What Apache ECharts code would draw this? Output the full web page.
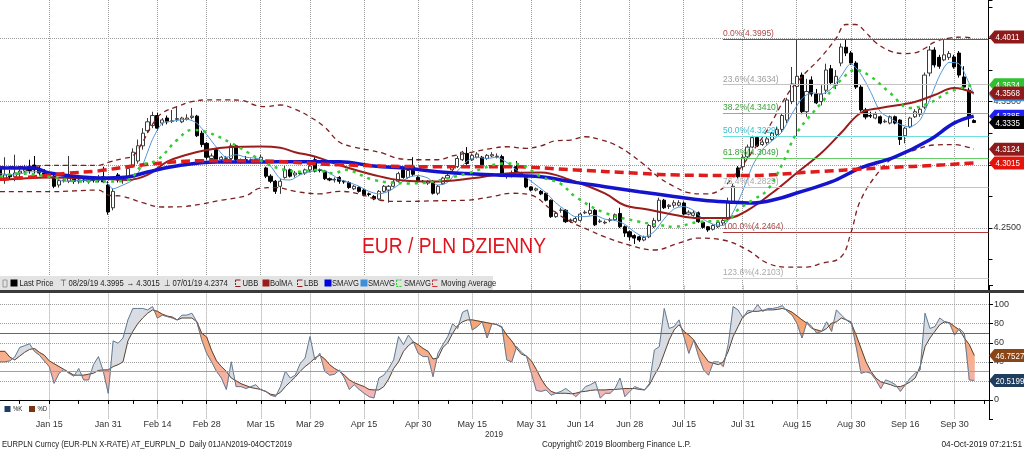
<!DOCTYPE html>
<html>
<head>
<meta charset="utf-8">
<script src="https://cdn.jsdelivr.net/npm/echarts@6/dist/echarts.min.js"></script>
<style>
html,body{margin:0;padding:0;background:#ffffff;}
#chart{width:1024px;height:450px;}
</style>
</head>
<body>
<div id="chart"></div>
<script>
// ---------------- DATA ----------------
// x-axis tick label dates
const tickLabelDates = ['2019-01-15','2019-01-31','2019-02-14','2019-02-28','2019-03-15','2019-03-29','2019-04-15','2019-04-30','2019-05-15','2019-05-31','2019-06-14','2019-06-28','2019-07-15','2019-07-31','2019-08-15','2019-08-30','2019-09-16','2019-09-30'];

// daily candles: [open, close, low, high], one per trading day from 2019-01-01
const candles = [
[4.2975,4.2880,4.2860,4.3010],[4.2890,4.2920,4.2850,4.3060],[4.2920,4.2905,4.2880,4.2960],[4.2905,4.2935,4.2870,4.3080],[4.2935,4.2950,4.2900,4.2990],
[4.2950,4.2965,4.2920,4.3000],[4.2965,4.2955,4.2930,4.3040],[4.2998,4.2960,4.2930,4.3070],[4.2960,4.2935,4.2915,4.2990],[4.2935,4.2920,4.2900,4.2965],
[4.2925,4.2930,4.2905,4.2950],[4.2910,4.2830,4.2815,4.2920],[4.2840,4.2875,4.2820,4.2890],[4.2875,4.2880,4.2860,4.2900],[4.2870,4.2895,4.2855,4.3070],
[4.2890,4.2870,4.2850,4.2900],[4.2870,4.2880,4.2850,4.2900],[4.2880,4.2875,4.2860,4.2890],[4.2870,4.2885,4.2850,4.2900],[4.2885,4.2875,4.2860,4.2910],
[4.2875,4.2890,4.2860,4.2920],[4.2905,4.2865,4.2855,4.2985],[4.2840,4.2627,4.2605,4.2870],[4.2660,4.2790,4.2640,4.2810],[4.2920,4.2880,4.2860,4.2935],
[4.2880,4.2895,4.2850,4.2900],[4.2905,4.2970,4.2890,4.2990],[4.2990,4.3100,4.2980,4.3130],[4.3030,4.3150,4.3010,4.3200],[4.3150,4.3250,4.3120,4.3290],
[4.3270,4.3340,4.3250,4.3370],[4.3310,4.3390,4.3290,4.3420],[4.3390,4.3290,4.3270,4.3410],[4.3330,4.3355,4.3310,4.3370],[4.3370,4.3340,4.3320,4.3390],
[4.3345,4.3347,4.3330,4.3434],[4.3360,4.3365,4.3340,4.3460],[4.3340,4.3370,4.3330,4.3380],[4.3360,4.3370,4.3350,4.3400],[4.3375,4.3385,4.3360,4.3450],
[4.3385,4.3230,4.3220,4.3395],[4.3250,4.3160,4.3140,4.3270],[4.3170,4.3060,4.3040,4.3180],[4.3050,4.3070,4.3030,4.3090],[4.3120,4.3040,4.3030,4.3130],
[4.3040,4.3060,4.3020,4.3070],[4.3050,4.3055,4.3040,4.3070],[4.3050,4.3150,4.3040,4.3170],[4.3150,4.3040,4.3030,4.3160],[4.3030,4.3040,4.3010,4.3050],
[4.3040,4.3035,4.3020,4.3070],[4.3035,4.3040,4.3020,4.3050],[4.3040,4.3045,4.3030,4.3070],[4.3030,4.3060,4.3020,4.3080],[4.2975,4.2910,4.2895,4.2985],
[4.2910,4.2870,4.2855,4.2925],[4.2870,4.2790,4.2770,4.2880],[4.2830,4.2870,4.2770,4.2890],[4.2900,4.2960,4.2890,4.2990],[4.2960,4.2910,4.2900,4.2970],
[4.2920,4.2935,4.2900,4.2950],[4.2930,4.2935,4.2920,4.2950],[4.2935,4.2960,4.2920,4.2970],[4.2960,4.2990,4.2940,4.3000],[4.3040,4.2950,4.2940,4.3060],
[4.2960,4.2955,4.2940,4.2970],[4.2950,4.2890,4.2880,4.2960],[4.2890,4.2880,4.2870,4.2900],[4.2880,4.2885,4.2860,4.2900],[4.2900,4.2870,4.2850,4.2910],
[4.2870,4.2865,4.2850,4.2880],[4.2860,4.2820,4.2810,4.2870],[4.2810,4.2830,4.2800,4.2840],[4.2820,4.2790,4.2780,4.2830],[4.2800,4.2760,4.2750,4.2810],
[4.2770,4.2765,4.2750,4.2780],[4.2750,4.2730,4.2720,4.2760],[4.2730,4.2790,4.2720,4.2800],[4.2790,4.2830,4.2780,4.2840],[4.2800,4.2830,4.2700,4.2840],
[4.2830,4.2865,4.2820,4.2880],[4.2870,4.2930,4.2860,4.2945],[4.2960,4.2900,4.2890,4.2970],[4.2900,4.2955,4.2890,4.2970],[4.2985,4.2925,4.2910,4.3060],
[4.2900,4.2870,4.2860,4.2910],[4.2870,4.2868,4.2860,4.2880],[4.2855,4.2870,4.2840,4.2880],[4.2870,4.2775,4.2765,4.2880],[4.2775,4.2830,4.2760,4.2840],
[4.2850,4.2895,4.2840,4.2905],[4.2895,4.2915,4.2890,4.2930],[4.2960,4.2985,4.2950,4.2995],[4.2985,4.3050,4.2975,4.3070],[4.3040,4.3100,4.3030,4.3110],
[4.3090,4.3010,4.3000,4.3140],[4.3040,4.3075,4.3030,4.3090],[4.3060,4.3085,4.3050,4.3100],[4.3060,4.3000,4.2990,4.3070],[4.3050,4.3075,4.3040,4.3085],
[4.3070,4.3080,4.3060,4.3100],[4.3065,4.3068,4.3050,4.3090],[4.3065,4.2920,4.2905,4.3080],[4.2910,4.2915,4.2890,4.2935],[4.2910,4.2935,4.2900,4.2955],
[4.2985,4.2945,4.2935,4.3030],[4.2930,4.2925,4.2910,4.2945],[4.2900,4.2825,4.2815,4.2910],[4.2825,4.2800,4.2790,4.2830],[4.2800,4.2810,4.2790,4.2820],
[4.2790,4.2770,4.2760,4.2800],[4.2775,4.2720,4.2710,4.2780],[4.2720,4.2590,4.2580,4.2725],[4.2590,4.2615,4.2580,4.2630],[4.2640,4.2642,4.2620,4.2660],
[4.2640,4.2550,4.2540,4.2650],[4.2560,4.2562,4.2540,4.2575],[4.2550,4.2575,4.2540,4.2590],[4.2560,4.2610,4.2550,4.2620],[4.2620,4.2625,4.2610,4.2640],
[4.2615,4.2640,4.2600,4.2700],[4.2640,4.2525,4.2515,4.2650],[4.2550,4.2555,4.2540,4.2570],[4.2540,4.2545,4.2530,4.2560],[4.2560,4.2565,4.2545,4.2580],
[4.2565,4.2605,4.2555,4.2615],[4.2615,4.2510,4.2500,4.2660],[4.2510,4.2460,4.2430,4.2520],[4.2470,4.2430,4.2400,4.2480],[4.2440,4.2420,4.2374,4.2450],
[4.2430,4.2405,4.2390,4.2440],[4.2405,4.2425,4.2395,4.2440],[4.2430,4.2520,4.2420,4.2530],[4.2510,4.2560,4.2500,4.2580],[4.2560,4.2720,4.2550,4.2740],
[4.2720,4.2660,4.2650,4.2730],[4.2670,4.2680,4.2650,4.2690],[4.2680,4.2700,4.2660,4.2720],[4.2680,4.2700,4.2670,4.2720],[4.2698,4.2610,4.2600,4.2710],
[4.2610,4.2625,4.2600,4.2640],[4.2600,4.2620,4.2590,4.2640],[4.2620,4.2550,4.2540,4.2630],[4.2545,4.2505,4.2495,4.2550],[4.2510,4.2485,4.2470,4.2515],
[4.2490,4.2520,4.2480,4.2530],[4.2510,4.2545,4.2500,4.2560],[4.2540,4.2560,4.2520,4.2570],[4.2570,4.2710,4.2560,4.2740],[4.2700,4.2830,4.2690,4.2850],
[4.2975,4.2905,4.2890,4.2990],[4.2985,4.3060,4.2960,4.3080],[4.3063,4.3140,4.3050,4.3160],[4.3140,4.3215,4.3130,4.3230],[4.3215,4.3150,4.3140,4.3225],
[4.3160,4.3180,4.3150,4.3200],[4.3175,4.3205,4.3160,4.3220],[4.3200,4.3250,4.3190,4.3260],[4.3240,4.3280,4.3225,4.3300],[4.3280,4.3390,4.3260,4.3410],
[4.3354,4.3513,4.3330,4.3530],[4.3500,4.3640,4.3480,4.3774],[4.3620,4.3700,4.3220,4.3987],[4.3710,4.3420,4.3400,4.3730],[4.3420,4.3580,4.3380,4.3680],
[4.3671,4.3560,4.3540,4.3700],[4.3560,4.3490,4.3480,4.3600],[4.3500,4.3560,4.3470,4.3630],[4.3590,4.3750,4.3560,4.3800],[4.3760,4.3650,4.3630,4.3790],
[4.3630,4.3700,4.3600,4.3750],[4.3805,4.3932,4.3780,4.3960],[4.3930,4.3884,4.3860,4.3995],[4.3884,4.3805,4.3790,4.3900],[4.3805,4.3615,4.3600,4.3820],
[4.3615,4.3434,4.3420,4.3630],[4.3434,4.3378,4.3360,4.3450],[4.3390,4.3385,4.3370,4.3420],[4.3370,4.3400,4.3360,4.3420],[4.3380,4.3330,4.3320,4.3390],
[4.3340,4.3345,4.3330,4.3360],[4.3330,4.3380,4.3320,4.3390],[4.3380,4.3330,4.3320,4.3390],[4.3354,4.3200,4.3157,4.3360],[4.3230,4.3290,4.3170,4.3300],
[4.3300,4.3370,4.3290,4.3380],[4.3380,4.3420,4.3370,4.3440],[4.3400,4.3440,4.3380,4.3450],[4.3457,4.3710,4.3440,4.3730],[4.3726,4.3908,4.3700,4.3940],
[4.3908,4.3790,4.3770,4.3930],[4.3850,4.3780,4.3760,4.3870],[4.3830,4.3870,4.3820,4.3987],[4.3850,4.3880,4.3830,4.3900],[4.3853,4.3774,4.3760,4.3870],
[4.3884,4.3710,4.3690,4.3900],[4.3695,4.3615,4.3600,4.3780],[4.3590,4.3380,4.3300,4.3610],[4.3350,4.3335,4.3330,4.3360]
];

// indicator lines: [tradingDayIndex, value]
const upperBand = [[0,4.2985],[5,4.2985],[10,4.2996],[15,4.2996],[20,4.2996],[22,4.3020],[25,4.3050],[27,4.3070],[29,4.3180],[31,4.3320],[33,4.3410],[36,4.3460],[39,4.3500],[42,4.3513],[46,4.3513],[49,4.3510],[52,4.3470],[54,4.3460],[57,4.3473],[60,4.3440],[63,4.3380],[66,4.3300],[69,4.3180],[72,4.3140],[75,4.3117],[78,4.3090],[81,4.3050],[85,4.3040],[89,4.3040],[92,4.3070],[96,4.3100],[100,4.3130],[103,4.3143],[107,4.3130],[110,4.3150],[113,4.3190],[116,4.3196],[119,4.3222],[122,4.3200],[125,4.3160],[128,4.3090],[131,4.3000],[134,4.2900],[137,4.2830],[140,4.2780],[143,4.2770],[146,4.2790],[149,4.2900],[152,4.3050],[156,4.3275],[160,4.3550],[163,4.3695],[167,4.3853],[170,4.4000],[172,4.4110],[174,4.4110],[176,4.4050],[178,4.3970],[181,4.3900],[184,4.3880],[186,4.3885],[188,4.3920],[190,4.3970],[193,4.4003],[196,4.4010],[198,4.4000]];
const lowerBand = [[0,4.2787],[10,4.2787],[20,4.2800],[22,4.2761],[25,4.2750],[29,4.2700],[33,4.2666],[37,4.2669],[41,4.2690],[45,4.2720],[50,4.2755],[53,4.2816],[56,4.2820],[60,4.2790],[65,4.2770],[69,4.2790],[73,4.2770],[77,4.2722],[82,4.2710],[88,4.2715],[95,4.2720],[100,4.2748],[104,4.2775],[108,4.2760],[112,4.2650],[116,4.2550],[120,4.2480],[123,4.2429],[128,4.2365],[133,4.2326],[138,4.2380],[142,4.2420],[147,4.2405],[152,4.2326],[156,4.2223],[160,4.2190],[164,4.2190],[167,4.2220],[171,4.2270],[173,4.2458],[175,4.2720],[179,4.2959],[182,4.3063],[186,4.3117],[190,4.3157],[194,4.3160],[198,4.3124]];
const bolMA = [[0,4.2880],[10,4.2900],[20,4.2890],[26,4.2880],[30,4.2920],[34,4.3025],[38,4.3080],[42,4.3117],[47,4.3140],[53,4.3145],[57,4.3135],[60,4.3100],[64,4.3065],[69,4.2998],[76,4.2920],[82,4.2875],[88,4.2867],[96,4.2893],[103,4.2932],[110,4.2940],[116,4.2880],[123,4.2774],[127,4.2680],[132,4.2645],[137,4.2605],[142,4.2579],[148,4.2579],[152,4.2640],[157,4.2777],[162,4.2935],[167,4.3093],[171,4.3251],[175,4.3410],[179,4.3449],[186,4.3497],[190,4.3552],[194,4.3607],[198,4.3568]];
const smaBlue = [[0,4.2975],[7,4.2975],[10,4.2935],[20,4.2896],[26,4.2904],[30,4.2943],[37,4.2998],[44,4.3022],[53,4.3022],[60,4.3025],[69,4.3025],[76,4.2990],[83,4.2972],[89,4.2945],[101,4.2919],[110,4.2906],[116,4.2867],[123,4.2827],[130,4.2787],[137,4.2750],[143,4.2720],[148,4.2706],[153,4.2698],[158,4.2729],[162,4.2777],[169,4.2864],[175,4.2975],[182,4.3063],[189,4.3196],[194,4.3330],[198,4.3385]];
const smaGreen = [[0,4.2906],[4,4.2932],[10,4.2906],[17,4.2867],[22,4.2867],[26,4.2880],[29,4.2998],[32,4.3038],[36,4.3196],[39,4.3275],[42,4.3260],[47,4.3172],[52,4.3060],[54,4.3011],[58,4.2959],[61,4.2945],[64,4.2959],[68,4.2932],[70,4.2960],[76,4.2880],[83,4.2853],[88,4.2867],[95,4.2932],[103,4.3011],[106,4.2998],[110,4.2906],[114,4.2850],[117,4.2748],[123,4.2620],[130,4.2550],[134,4.2524],[137,4.2510],[142,4.2547],[148,4.2563],[150,4.2642],[153,4.2720],[156,4.2800],[159,4.3000],[162,4.3250],[167,4.3489],[171,4.3671],[174,4.3750],[177,4.3700],[181,4.3568],[185,4.3449],[189,4.3489],[193,4.3576],[198,4.3634]];
const smaLight = [[0,4.2930],[3,4.2920],[6,4.2945],[9,4.2940],[11,4.2900],[13,4.2870],[16,4.2875],[19,4.2880],[21,4.2880],[23,4.2810],[25,4.2840],[27,4.2880],[29,4.3000],[31,4.3200],[33,4.3330],[35,4.3345],[38,4.3360],[40,4.3330],[42,4.3240],[44,4.3140],[46,4.3060],[48,4.3080],[50,4.3060],[53,4.3045],[55,4.2990],[57,4.2890],[59,4.2880],[61,4.2920],[63,4.2945],[65,4.2960],[67,4.2935],[69,4.2885],[71,4.2860],[73,4.2830],[75,4.2790],[77,4.2770],[79,4.2790],[81,4.2840],[83,4.2900],[85,4.2915],[87,4.2895],[89,4.2840],[91,4.2860],[93,4.2950],[95,4.3030],[97,4.3060],[99,4.3050],[101,4.3060],[103,4.3020],[105,4.2960],[107,4.2900],[109,4.2840],[111,4.2780],[113,4.2700],[115,4.2640],[117,4.2590],[119,4.2590],[121,4.2600],[123,4.2570],[125,4.2560],[127,4.2530],[129,4.2470],[131,4.2430],[133,4.2470],[135,4.2570],[137,4.2650],[139,4.2670],[141,4.2640],[143,4.2570],[145,4.2530],[147,4.2520],[149,4.2620],[151,4.2790],[153,4.2990],[155,4.3120],[157,4.3190],[159,4.3260],[161,4.3400],[163,4.3520],[165,4.3570],[167,4.3560],[169,4.3600],[171,4.3700],[173,4.3800],[175,4.3720],[177,4.3580],[179,4.3420],[181,4.3370],[183,4.3320],[185,4.3300],[187,4.3350],[189,4.3510],[191,4.3700],[193,4.3810],[195,4.3800],[197,4.3650],[198,4.3555]];
const movingAvg = [[0,4.2885],[7,4.2906],[14,4.2934],[20,4.2952],[27,4.2990],[34,4.3018],[41,4.3032],[53,4.3030],[69,4.3000],[89,4.2985],[103,4.2985],[117,4.2959],[130,4.2932],[138,4.2919],[152,4.2915],[165,4.2943],[179,4.2975],[192,4.3000],[198,4.3015]];

// stochastic %K and %D, one per trading day
const stochK = [40,40,41,45,55,57,59,51,47,41, 35,17.5,28,32,28,25,33,21,21,37, 45.5,30,7,62,59.5,65,84,96,96,96, 94.5,98,86,89,87.5,86,84,89,89,91, 82,63,49,40,30,23,11,40,14,14, 12,14,16,10.5,9,5,3.5,14,30,23, 26,38,44,66.5,42,49,30,26,27,31.5, 23,11,16,11,7,3.5,2,23,26,33, 42,66.5,58,68,61,49,45.5,45.5,24.5,49, 58,66.5,80,75,92,94.5,73.5,77,82,65, 80.5,79,77,42,40,56,50,46,28,10, 9,10.5,5,7,9,12,8,3.5,8,14, 16,19,2,7,7,12,23,3.5,9,14, 12,10.5,17.5,52.5,56,96,75,77,84,66.5, 49,63,45.5,31.5,26,40,40,35,58,98, 94.5,86,94,93,100,93,96,96,97,99, 93,89,80,65,82,77,70,72,82,72, 94.5,89,84,82,56,28,29.5,28,21,12, 21,19,16,9,16,23,28,31.5,91,75, 77,86,82,80.5,68,75,70,21,20.52];
const stochD = [51,51,45,42,46,50,53,54,50,47, 41,38,35,32,29,26,26,26,27,28, 31,31.5,31.5,35,37,40,62,72,80,86, 91,94.5,93,90,88,87,84,86,86,86, 82,70,66,52,41,35,30,23,20,17, 15,13,12,11,9,6,5,8,14,19, 24,30,35,39,44,47,43,37,33,30, 26,21,18,16,14,11,10.5,10.5,14,22, 33,40,51,57,61,58,54,51,43,44, 55,60,70,78,82,84,84,83,82,81, 80,79,76,68,62,54,48,46,41,32, 22,14,9,7,7,7,6.5,7,8.5,9, 10,10.5,10.5,10.5,11,11,11.5,12,12,12, 11,10.5,16,26,35,49,63,73.5,79,72, 68,63,54,47,40,38.5,37,40,51,66.5, 77,87.5,91,93,93,94,94.5,94.5,95,96, 94.5,92,88,84,80.5,75,73.5,72,75,80.5, 82,86,84,80.5,68,54,40,30,23,19, 17.5,16,14,14,16,19,23,35,56,65, 72,79,82,81,77,73.5,65,58,46.75];

// Fibonacci retracement
const fibLevels = [0, 23.6, 38.2, 50, 61.8, 76.4, 100, 123.6];
const fibValues = [4.3995, 4.3634, 4.3410, 4.3229, 4.3049, 4.2825, 4.2464, 4.2103];
const fibStartDate = '2019-07-25';

// last-value tags
const priceTags = [[4.4011,'#8e1b1b'],[4.3634,'#2fc22f'],[4.3555,'#3b8fdc'],[4.3568,'#8e1b1b'],[4.3385,'#1f1ff0'],[4.3335,'#000000'],[4.3124,'#8e1b1b'],[4.3015,'#e3140c']];
const stochTags = [[46.7527,'#8a4516'],[20.5199,'#1f3d5c']];
const priceAxisLabels = [4.25, 4.35];
// price axis range
const priceMin = 4.20, priceMax = 4.43038;

// ---------------- BUILD ----------------
const FONT = "'Liberation Sans',Arial,sans-serif";
const cats = [];
for (let d = new Date(Date.UTC(2019,0,1)); d <= new Date(Date.UTC(2019,9,4)); d.setUTCDate(d.getUTCDate()+1)) {
  const wd = d.getUTCDay(); if (wd === 0 || wd === 6) continue;
  cats.push(d.toISOString().slice(0,10));
}
cats.push('pad1','pad2','pad3');
const lastIdx = cats.length - 1;
const MN = ['Jan','Feb','Mar','Apr','May','Jun','Jul','Aug','Sep','Oct','Nov','Dec'];
function fmtDate(s){ if(!/^\d{4}-/.test(s)) return ''; return MN[+s.slice(5,7)-1] + ' ' + (+s.slice(8,10)); }
const labelIdx = tickLabelDates.map(d => cats.indexOf(d));
const labelSet = new Set(labelIdx);
const tickSet = new Set(labelIdx);
for (let k = 0; k < labelIdx.length - 1; k++) tickSet.add(Math.round((labelIdx[k] + labelIdx[k+1]) / 2));
tickSet.add(labelIdx[0] - 6); tickSet.add(labelIdx[labelIdx.length-1] + 6);

const gridLine = {type:'dotted', color:'#9c9c9c', width:1};

const fibLineColors = ['#b03a3a','#c4c4c4','#66cc66','#6fdede','#66cc66','#c4c4c4','#b03a3a','#cccccc'];
const fibTextColors = ['#b04848','#9c9c9c','#3aa03a','#35bfd0','#3aa03a','#aaaaaa','#b04848','#aaaaaa'];
const fibStart = cats.indexOf(fibStartDate);

const fillData = stochK.slice(0, -1).map((k, i) => [i, k, stochD[i], stochK[i+1], stochD[i+1]]);

function lineSeries(data, color, width, type, z, smooth) {
  return {type:'line', xAxisIndex:0, yAxisIndex:1, data, symbol:'none', smooth: smooth, z,
    lineStyle:{color, width, type}, silent:true};
}

const chart = echarts.init(document.getElementById('chart'), null, {renderer:'canvas'});
let orangeGrad = null;

const option = {
  animation:false,
  backgroundColor:'#ffffff',
  grid:[
    {left:0, right:35, top:0, height:(priceMax-priceMin)*1264},
    {left:0, right:35, top:285.6, height:133.4}
  ],
  xAxis:[
    {gridIndex:0, type:'category', data:cats, boundaryGap:false,
     axisLine:{show:false}, axisTick:{show:false}, axisLabel:{show:false},
     splitLine:{show:true, interval:(i)=>labelSet.has(i), lineStyle:gridLine}},
    {gridIndex:1, type:'category', data:cats, boundaryGap:false,
     axisLine:{show:true, lineStyle:{color:'#000', width:1}},
     axisTick:{show:true, interval:(i)=>tickSet.has(i), length:4, lineStyle:{color:'#000'}},
     axisLabel:{interval:(i)=>labelSet.has(i), formatter:fmtDate, color:'#333', fontSize:9, fontFamily:FONT, margin:1},
     splitLine:{show:true, interval:(i)=>labelSet.has(i), lineStyle:gridLine}}
  ],
  yAxis:[
    // grid lines every 0.05
    {gridIndex:0, type:'value', position:'right', min:priceMin, max:priceMax, interval:0.05,
     axisLine:{show:false}, axisTick:{show:false}, axisLabel:{show:false},
     splitLine:{show:true, showMaxLine:false, lineStyle:gridLine}},
    // axis with ticks every 0.025
    {gridIndex:0, type:'value', position:'right', min:priceMin, max:priceMax, interval:0.025,
     axisLine:{show:true, lineStyle:{color:'#000'}},
     axisTick:{show:true, length:4, lineStyle:{color:'#000'}},
     axisLabel:{formatter:(v)=> priceAxisLabels.some(p=>Math.abs(p-v)<1e-6) ? v.toFixed(4) : '', color:'#333', fontSize:9, fontFamily:FONT, margin:5},
     splitLine:{show:false}},
    {gridIndex:1, type:'value', position:'right', min:-20, max:120, interval:20,
     axisLine:{show:true, lineStyle:{color:'#000'}},
     axisTick:{show:true, length:4, lineStyle:{color:'#000'}},
     axisLabel:{formatter:(v)=> (v>=0 && v<=100) ? String(v) : '', color:'#333', fontSize:9, fontFamily:FONT, margin:5},
     splitLine:{show:true, showMinLine:false, showMaxLine:false, lineStyle:gridLine}}
  ],
  series:[
    {type:'line', xAxisIndex:0, yAxisIndex:1, data:[], z:1, silent:true,
     markLine:{symbol:'none', silent:true, animation:false,
       data: fibLevels.map((lv,k)=>[
         {coord:[fibStart, fibValues[k]], lineStyle:{color:fibLineColors[k], width:1, type:'solid'},
          label:{show:true, position:'insideStartTop', distance:[0,1], formatter: lv.toFixed(1)+'%('+fibValues[k].toFixed(4)+')', color:fibTextColors[k], fontSize:8.5, fontFamily:FONT}},
         {coord:[lastIdx, fibValues[k]]}
       ])}},
    {type:'candlestick', xAxisIndex:0, yAxisIndex:1, data:candles, barWidth:3.6, z:2, silent:true,
     itemStyle:{color:'#ffffff', color0:'#000000', borderColor:'#3a3a3a', borderColor0:'#000000', borderWidth:1}},
    lineSeries(smaLight, '#4f94d6', 1, 'solid', 3, 0.25),
    lineSeries(bolMA, '#9a1c1c', 2, 'solid', 4, 0.4),
    lineSeries(upperBand, '#7d1f1f', 1.3, [5,4], 4, 0.4),
    lineSeries(lowerBand, '#7d1f1f', 1.3, [5,4], 4, 0.4),
    lineSeries(smaBlue, '#1414cf', 3.5, 'solid', 5, 0.4),
    lineSeries(movingAvg, '#e01b1b', 3.5, [9,5], 6, 0.4),
    lineSeries(smaGreen, '#33cc33', 2.5, [3,5], 7, 0.4),
    {type:'custom', xAxisIndex:1, yAxisIndex:2, data:fillData, z:2, silent:true,
     encode:{x:0, y:[1,2,3,4]},
     renderItem:function(params, api){
       const i = api.value(0);
       const kv1 = api.value(1), dv1 = api.value(2), kv2 = api.value(3), dv2 = api.value(4);
       const k1 = api.coord([i, kv1]), d1 = api.coord([i, dv1]);
       const k2 = api.coord([i+1, kv2]), d2 = api.coord([i+1, dv2]);
       if (!orangeGrad) {
         const yt = api.coord([0,100])[1], yb = api.coord([0,0])[1];
         orangeGrad = new echarts.graphic.LinearGradient(0, yt, 0, yb, [{offset:0,color:'#f7a066'},{offset:0.5,color:'#f6ad88'},{offset:1,color:'#f5b7bd'}], true);
       }
       const gray = '#d9dde3';
       const e1 = kv1 - dv1, e2 = kv2 - dv2;
       const poly = (pts, up) => ({type:'polygon', shape:{points:pts}, style:{fill: up ? gray : orangeGrad, stroke: up ? gray : orangeGrad, lineWidth:0.6}});
       const kids = [];
       if (e1 * e2 >= 0) {
         kids.push(poly([k1,k2,d2,d1], (e1 + e2) >= 0));
       } else {
         const t = e1 / (e1 - e2);
         const c = [k1[0] + t*(k2[0]-k1[0]), k1[1] + t*(k2[1]-k1[1])];
         kids.push(poly([k1,c,d1], e1 > 0));
         kids.push(poly([c,k2,d2], e2 > 0));
       }
       return {type:'group', children:kids};
     }},
    {type:'line', xAxisIndex:1, yAxisIndex:2, data:stochD, symbol:'none', z:3, silent:true,
     lineStyle:{color:'#5a4434', width:1},
     markLine:{symbol:'none', silent:true, label:{show:false}, animation:false,
       data:[{yAxis:70, lineStyle:{color:'#cc3b3b', width:1, type:'solid'}},{yAxis:30, lineStyle:{color:'#63c963', width:1, type:'solid'}}]}},
    {type:'line', xAxisIndex:1, yAxisIndex:2, data:stochK, symbol:'none', z:4, silent:true,
     lineStyle:{color:'#627a93', width:1}}
  ]
};
chart.setOption(option);

// ---------------- OVERLAY (legend, texts, value tags) ----------------
const G = [];
const T = (x, y, text, opts, sx) => G.push({type:'text', x, y, z:100, silent:true, scaleX: sx || 0.85,
  style:Object.assign({text, fill:'#222', font:'9px '+FONT, verticalAlign:'middle', textVerticalAlign:'middle'}, opts||{})});
const R = (x, y, w, h, fill, z) => G.push({type:'rect', z:z||100, silent:true, shape:{x,y,width:w,height:h}, style:{fill}});
const PL = (pts, stroke, dash) => G.push({type:'polyline', z:101, silent:true, shape:{points:pts}, style:{stroke, lineWidth:1, lineDash:dash||null, fill:null}});

// legend bar
R(0, 276, 493, 15, '#e3e3e3', 99);
R(0, 290, 1024, 3, '#3a3a3a', 99);
G.push({type:'rect', z:100, silent:true, shape:{x:3,y:280,width:4,height:7}, style:{fill:'none', stroke:'#999', lineWidth:1}});
R(10.5, 279.5, 7, 7, '#000');
T(19.5, 283.5, 'Last Price');
T(59.5, 283.5, '\u22A4 08/29/19 4.3995');
T(126.5, 283.5, '\u2192 4.3015');
T(163.5, 283.5, '\u22A5 07/01/19 4.2374');
PL([[235.5,280],[240.5,280]], '#8e1b1b'); PL([[235.5,286.5],[240.5,286.5]], '#8e1b1b'); PL([[235.5,280],[235.5,286.5]], '#8e1b1b',[2,1]);
T(242.5, 283.5, 'UBB');
R(262.5, 279.5, 7, 7, '#9a1c1c');
T(270, 283.5, 'BolMA');
PL([[297.5,280],[302.5,280]], '#8e1b1b'); PL([[297.5,286.5],[302.5,286.5]], '#8e1b1b'); PL([[297.5,280],[297.5,286.5]], '#8e1b1b',[2,1]);
T(304, 283.5, 'LBB');
R(324.5, 279.5, 7, 7, '#0000dd');
T(332, 283.5, 'SMAVG');
R(360.5, 279.5, 7, 7, '#3b8fdc');
T(368, 283.5, 'SMAVG');
PL([[396.5,280],[401.5,280]], '#33cc33',[2,1]); PL([[396.5,286.5],[401.5,286.5]], '#33cc33',[2,1]); PL([[396.5,280],[396.5,286.5]], '#33cc33',[2,1]);
T(404, 283.5, 'SMAVG');
PL([[432.5,280],[437.5,280]], '#cc3333'); PL([[432.5,286.5],[437.5,286.5]], '#cc3333'); PL([[432.5,280],[432.5,286.5]], '#cc3333',[2,1]);
T(441, 283.5, 'Moving Average');

// stochastic legend
R(4.5, 406, 6, 6, '#1f3d66');
T(13, 409, '%K', {font:'7px '+FONT});
R(29, 406, 6, 6, '#7a3410');
T(37.5, 409, '%D', {font:'7px '+FONT});

// title
T(362, 247, 'EUR / PLN DZIENNY', {fill:'#e0141e', font:'22px '+FONT}, 0.875);

// footer
T(485, 434.5, '2019', {font:'9px '+FONT, fill:'#333'}, 0.9);
T(2, 445, 'EURPLN Curncy (EUR-PLN X-RATE) AT_EURPLN_D  Daily 01JAN2019-04OCT2019', null, 0.845);
T(542, 445, 'Copyright\u00A9 2019 Bloomberg Finance L.P.', null, 0.9);
T(1022, 445, '04-Oct-2019 07:21:51', {align:'right', textAlign:'right'}, 0.92);

// value tags
function tag(y, text, color, z) {
  G.push({type:'polygon', z, silent:true, shape:{points:[[989,y],[994.5,y-6.5],[1024,y-6.5],[1024,y+6.5],[994.5,y+6.5]]}, style:{fill:color}});
  G.push({type:'text', x:995.5, y:y+0.5, z:z+1, silent:true, scaleX:0.84, style:{text, fill:'#fff', font:'9.5px '+FONT, verticalAlign:'middle', textVerticalAlign:'middle'}});
}
priceTags.forEach((t, k) => tag(chart.convertToPixel({yAxisIndex:1}, t[0]), t[0].toFixed(4), t[1], 110 + 2*k));
stochTags.forEach((t, k) => tag(chart.convertToPixel({yAxisIndex:2}, t[0]), t[0].toFixed(4), t[1], 110 + 2*k));

chart.setOption({graphic:{elements:G}});
</script>
</body>
</html>
